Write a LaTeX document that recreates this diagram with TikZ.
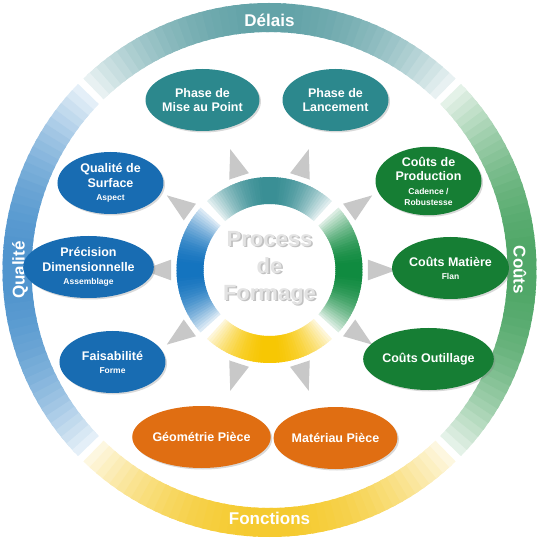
\documentclass[tikz,border=0pt]{standalone}
\usepackage{fontspec}
\setmainfont{Liberation Sans}
\usetikzlibrary{shapes.geometric,shadows}

% colours of the four fields
\definecolor{ringteal}{RGB}{98,162,167}
\definecolor{ringgreen}{RGB}{78,166,102}
\definecolor{ringyellow}{RGB}{245,202,46}
\definecolor{ringblue}{RGB}{79,148,205}
\definecolor{coreteal}{RGB}{56,142,148}
\definecolor{coregreen}{RGB}{14,138,62}
\definecolor{coreyellow}{RGB}{247,198,0}
\definecolor{coreblue}{RGB}{18,114,190}
\definecolor{topicteal}{RGB}{44,136,141}
\definecolor{topicgreen}{RGB}{22,126,52}
\definecolor{topicorange}{RGB}{224,110,18}
\definecolor{topicblue}{RGB}{24,108,178}
\definecolor{pointergray}{RGB}{200,200,200}

% one coloured part of a ring, fading to white at both ends
% #1 mid angle, #2 inner radius, #3 outer radius, #4 colour, #5 half span
\newcommand{\ringpart}[5]{%
  \foreach \k in {-24,...,23}{%
    \pgfmathsetmacro\angA{#1+\k*#5/24}
    \pgfmathsetmacro\angB{#1+(\k+1)*#5/24+(\k<23)*0.8}
    \pgfmathtruncatemacro\shadepct{100-88*((\k+0.5)/24)*((\k+0.5)/24)}
    \fill[#4!\shadepct!white] (\angA:#2pt) arc[start angle=\angA, end angle=\angB, radius=#2pt]
      -- (\angB:#3pt) arc[start angle=\angB, end angle=\angA, radius=#3pt] -- cycle;
  }}
\newcommand{\subline}[1]{{\fontsize{8.5}{11}\selectfont #1}}

\tikzset{
  bubble/.style={ellipse, minimum width=106pt, minimum height=62pt, inner sep=0pt,
    text=white, align=center, font=\bfseries\fontsize{12.5}{14.5}\selectfont,
    drop shadow={opacity=0.3, shadow xshift=1.5pt, shadow yshift=-1.5pt}},
  ringlabel/.style={text=white, font=\bfseries\fontsize{17}{20}\selectfont, inner sep=0pt},
  coretext/.style={align=center, text=gray!22, font=\bfseries\fontsize{22}{27}\selectfont},
  pointer/.style={fill=pointergray},
}

\begin{document}
\begin{tikzpicture}[x=1pt, y=1pt]
	\useasboundingbox (-269.5,-270) rectangle (269.5,270);
	\coordinate (hub) at (0,0);

	% Outer ring with the four fields
	\ringpart{90}{238}{267}{ringteal}{44.2}
	\ringpart{0}{238}{267}{ringgreen}{44.2}
	\ringpart{270}{238}{267}{ringyellow}{44.2}
	\ringpart{180}{238}{267}{ringblue}{44.2}

	\node[ringlabel] (delais) at (0,250) {Délais};
	\node[ringlabel, rotate=-90] (couts) at (250.5,0) {Coûts};
	\node[ringlabel] (fonctions) at (0,-248) {Fonctions};
	\node[ringlabel, rotate=90] (qualite) at (-249.5,0) {Qualité};

	% Inner ring around the process
	\ringpart{90}{66}{93}{coreteal}{42.2}
	\ringpart{0}{66}{93}{coregreen}{42.2}
	\ringpart{270}{66}{93}{coreyellow}{42.2}
	\ringpart{180}{66}{93}{coreblue}{42.2}

	\node[coretext, text=gray!70, opacity=0.7] at (1.6,0.4) {Process\\de\\Formage};
	\node[coretext] (process) at (0,2) {Process\\de\\Formage};

	% Grey pointers out of the inner ring
	\foreach \a in {0,36,...,324}
		\fill[pointer] ([shift={(\a:127)}]hub) -- ([shift={(\a+6:99)}]hub) -- ([shift={(\a-6:99)}]hub) -- cycle;

	% Topics of each field
	\node[bubble, fill=topicteal] (mise) at (-67,170) {Phase de\\Mise au Point};
	\node[bubble, fill=topicteal] (lancement) at (66,170) {Phase de\\Lancement};
	\node[bubble, fill=topicgreen] (production) at (159,89) {Coûts de\\Production\\[-1pt]\subline{Cadence /}\\[-3.5pt]\subline{Robustesse}};
	\node[bubble, fill=topicgreen] (matiere) at (181,2) {Coûts Matière\\[-1.5pt]\subline{Flan}};
	\node[bubble, fill=topicgreen] (outillage) at (159,-89) {Coûts Outillage};
	\node[bubble, fill=topicorange] (materiau) at (66,-168) {Matériau Pièce};
	\node[bubble, fill=topicorange] (geometrie) at (-68,-167) {Géométrie Pièce};
	\node[bubble, fill=topicblue] (faisabilite) at (-157,-92) {Faisabilité\\[-1.5pt]\subline{Forme}};
	\node[bubble, fill=topicblue] (precision) at (-181,3) {Précision\\Dimensionnelle\\[-1pt]\subline{Assemblage}};
	\node[bubble, fill=topicblue] (surface) at (-159,87) {Qualité de\\Surface\\[-1.5pt]\subline{Aspect}};
\end{tikzpicture}
\end{document}
